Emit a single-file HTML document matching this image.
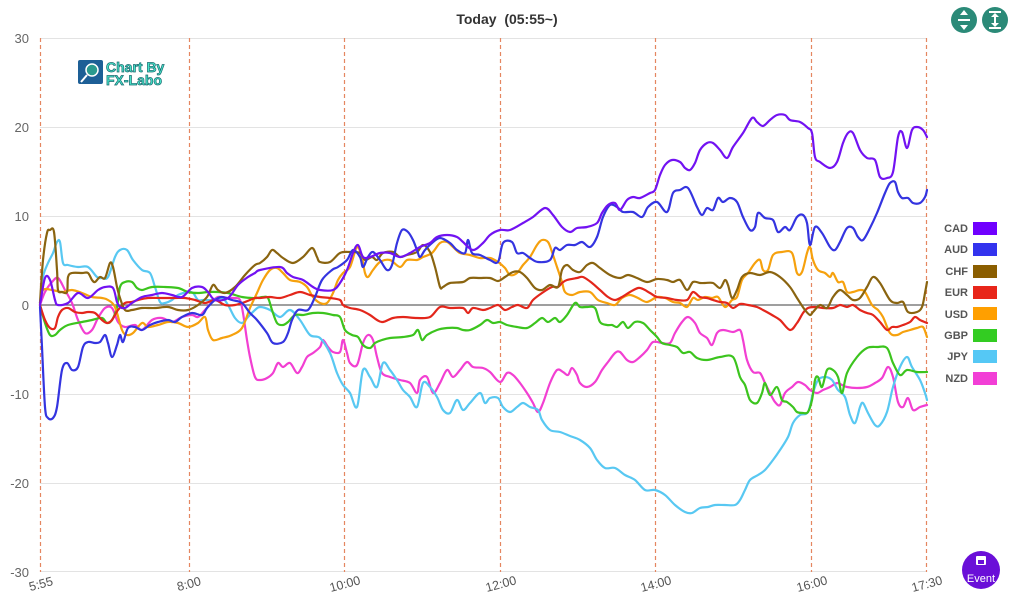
<!DOCTYPE html>
<html><head><meta charset="utf-8">
<style>
html,body{margin:0;padding:0;background:#fff;}
body{width:1024px;height:603px;overflow:hidden;position:relative;font-family:"Liberation Sans",sans-serif;}
svg{position:absolute;left:0;top:0;}
</style></head>
<body>
<svg width="1024" height="603" viewBox="0 0 1024 603" xmlns="http://www.w3.org/2000/svg">
<!-- grid -->
<g stroke="#e3e3e3" stroke-width="1">
<line x1="40" y1="38.5" x2="927" y2="38.5"/>
<line x1="40" y1="127.5" x2="927" y2="127.5"/>
<line x1="40" y1="216.5" x2="927" y2="216.5"/>
<line x1="40" y1="394.5" x2="927" y2="394.5"/>
<line x1="40" y1="483.5" x2="927" y2="483.5"/>
<line x1="40" y1="571.5" x2="927" y2="571.5"/>
</g>
<g stroke="#e58660" stroke-width="1.2" stroke-dasharray="4,3">
<line x1="40.5" y1="38" x2="40.5" y2="572"/>
<line x1="189.5" y1="38" x2="189.5" y2="572"/>
<line x1="344.5" y1="38" x2="344.5" y2="572"/>
<line x1="500.5" y1="38" x2="500.5" y2="572"/>
<line x1="655.5" y1="38" x2="655.5" y2="572"/>
<line x1="811.5" y1="38" x2="811.5" y2="572"/>
<line x1="926.5" y1="38" x2="926.5" y2="572"/>
</g>
<line x1="40" y1="305" x2="927" y2="305" stroke="#666" stroke-width="1.2"/>
<!-- y labels -->
<g font-size="13" fill="#666" text-anchor="end" font-family="Liberation Sans, sans-serif">
<text x="29" y="43">30</text>
<text x="29" y="132">20</text>
<text x="29" y="221">10</text>
<text x="29" y="310">0</text>
<text x="29" y="399">-10</text>
<text x="29" y="488">-20</text>
<text x="29" y="577">-30</text>
</g>
<!-- x labels -->
<g font-size="12.5" fill="#555" text-anchor="middle" font-family="Liberation Sans, sans-serif">
<text transform="translate(42,588) rotate(-15)">5:55</text>
<text transform="translate(190,588) rotate(-15)">8:00</text>
<text transform="translate(346,588) rotate(-15)">10:00</text>
<text transform="translate(502,588) rotate(-15)">12:00</text>
<text transform="translate(657,588) rotate(-15)">14:00</text>
<text transform="translate(813,588) rotate(-15)">16:00</text>
<text transform="translate(928,588) rotate(-15)">17:30</text>
</g>
<!-- title -->
<text x="507" y="24" font-size="14" font-weight="bold" fill="#333" text-anchor="middle" font-family="Liberation Sans, sans-serif">Today&#160;&#160;(05:55~)</text>
<!-- logo -->
<rect x="78" y="60" width="25" height="24" rx="2" fill="#1d5f96"/>
<circle cx="92" cy="70" r="6" fill="#2a9a8e" stroke="#fff" stroke-width="1.5"/>
<line x1="87" y1="75" x2="81" y2="82" stroke="#fff" stroke-width="2"/>
<g font-size="14" font-weight="bold" fill="#46e3c8" stroke="#1b6a70" stroke-width="0.7" font-family="Liberation Sans, sans-serif">
<text x="106" y="72">Chart By</text>
<text x="106" y="85">FX-Labo</text>
</g>
<!-- series -->
<g id="series" fill="none" stroke-width="2.2" stroke-linejoin="round" stroke-linecap="round">
<polyline stroke="#f23fd2" points="40,305 45,292 52,282 58,278 65,290 72,303 78,320 85,333 92,330 98,318 105,308 112,308 118,322 125,327 135,325 142,330 152,320 162,318 172,322 182,317 192,315 198,317 205,310 212,302 218,297 228,298 235,298 240,300 243,313 247,340 250,357 255,377 260,380 267,378 273,373 278,363 283,367 290,363 297,373 302,367 307,357 313,353 320,347 323,340 328,347 333,352 340,352 343,340 347,353 350,363 357,365 363,343 368,335 373,340 377,357 382,373 390,377 400,380 410,383 417,393 420,380 427,377 433,393 440,383 447,370 453,377 460,370 467,362 473,367 483,368 490,372 500,382 507,373 513,375 520,383 527,393 533,403 538,412 543,403 550,383 557,370 563,372 568,375 572,368 577,375 580,383 587,387 595,382 602,370 608,362 615,353 620,352 627,360 633,362 640,357 647,350 653,342 662,343 670,343 675,333 682,322 688,317 695,323 700,333 707,338 712,345 717,333 723,330 733,332 740,330 743,340 747,360 753,372 760,373 765,383 770,393 775,402 780,405 785,393 792,387 798,382 805,385 810,390 817,393 823,390 830,387 837,383 842,385 847,387 857,388 867,387 875,383 882,378 888,367 893,377 898,402 903,407 908,398 913,410 920,407 927,405"/>
<polyline stroke="#58c8f2" points="40,303 43,277 48,263 53,253 57,242 60,242 63,263 68,265 78,267 88,267 97,277 102,278 108,277 115,257 120,250 127,250 133,260 142,270 150,273 155,287 160,302 165,303 172,300 178,295 188,292 193,293 198,300 203,300 212,300 222,298 228,305 235,318 242,323 248,317 255,310 260,307 270,310 280,317 290,310 300,320 310,335 320,338 330,353 337,373 343,385 350,393 357,407 363,370 370,377 377,387 383,363 390,370 397,380 403,390 410,397 417,407 423,383 430,387 437,397 443,410 450,413 457,400 463,410 470,403 480,393 485,403 490,398 498,398 503,407 510,412 517,407 523,403 530,407 538,410 542,420 550,430 560,432 570,436 580,440 590,448 597,460 605,468 615,468 625,475 635,480 645,490 655,490 665,495 675,505 685,512 692,513 700,508 708,507 715,505 725,505 735,505 740,500 745,490 750,480 758,475 765,470 773,460 780,450 788,437 793,423 800,415 808,412 813,393 818,380 825,377 832,380 838,390 845,397 850,415 855,423 860,407 863,403 868,413 875,425 880,425 887,412 893,387 900,367 907,357 912,367 920,380 925,393 927,400"/>
<polyline stroke="#3cc41e" points="40,305 45,323 50,335 55,335 60,330 68,325 82,322 92,320 102,318 107,323 112,320 117,307 120,287 125,282 132,282 137,288 142,290 152,287 165,287 178,288 188,292 198,293 208,292 218,292 228,293 242,297 252,298 257,298 263,297 268,298 272,310 277,323 283,325 288,322 295,315 303,315 313,313 323,313 333,315 340,317 345,330 352,335 358,337 363,345 370,348 375,343 382,340 390,338 403,337 413,335 418,330 422,340 427,335 437,330 447,328 457,328 463,330 470,330 480,325 487,320 493,323 500,322 507,325 517,327 527,328 535,323 542,318 548,322 555,318 560,322 567,315 575,303 580,307 587,307 595,308 600,322 607,325 612,325 617,327 623,322 628,328 635,322 643,323 650,330 657,337 662,343 670,345 677,347 683,353 690,352 697,358 707,360 720,357 733,357 740,377 745,385 750,400 757,403 762,393 765,383 770,395 777,387 782,400 787,402 793,407 797,412 803,413 808,412 812,400 815,380 818,377 822,387 827,370 833,370 838,377 842,393 847,373 857,357 867,348 877,347 887,348 893,363 900,375 907,370 917,372 927,372"/>
<polyline stroke="#f6a10d" points="40,303 43,290 52,290 62,292 72,290 82,293 92,297 102,298 108,300 115,307 122,330 127,335 133,333 142,323 148,327 158,325 168,322 178,323 188,327 198,323 205,317 208,330 213,340 222,338 232,335 242,328 250,308 257,293 263,280 270,270 277,268 283,273 290,280 300,282 307,287 313,297 320,303 327,303 333,293 338,280 343,273 350,267 357,247 362,258 365,273 368,277 373,270 380,262 390,260 400,267 407,260 417,260 423,257 432,253 440,243 447,242 453,247 460,253 470,255 480,258 490,258 498,262 505,268 510,275 517,273 523,265 530,257 537,245 542,240 548,242 552,252 557,267 562,282 565,292 572,295 580,292 590,292 598,300 607,303 615,305 622,298 630,295 638,298 647,302 657,297 665,298 673,302 680,303 687,307 693,298 698,300 705,297 712,298 718,297 725,307 732,300 737,297 742,280 748,273 755,263 760,260 763,270 768,270 773,255 782,252 792,253 797,273 802,272 807,253 810,247 813,260 818,270 825,273 830,277 833,273 838,282 843,282 847,292 853,292 860,290 865,292 872,305 878,310 883,317 890,333 897,335 903,332 910,330 917,328 923,327 927,337"/>
<polyline stroke="#e3261b" points="40,305 45,320 50,328 55,328 58,317 62,310 68,308 75,312 82,313 88,312 95,313 102,320 107,323 112,320 118,310 125,303 132,302 138,300 148,298 162,298 175,298 185,298 195,300 205,303 215,300 225,305 235,305 245,302 255,298 260,298 270,297 280,298 290,295 300,292 310,295 320,297 330,298 340,300 343,305 350,308 360,310 370,315 377,320 383,322 393,318 403,317 417,318 430,317 440,307 450,308 463,308 468,313 473,308 483,310 490,308 498,305 505,310 512,307 518,305 527,308 533,300 542,293 552,287 558,287 562,283 567,280 577,278 583,277 592,283 600,290 608,297 615,300 622,297 630,292 638,288 643,289 650,293 657,297 667,298 677,300 687,300 693,292 700,297 707,298 713,300 720,302 727,303 733,308 740,304 748,305 757,307 763,310 772,315 780,320 790,330 797,323 803,313 808,308 815,307 823,308 833,308 840,305 847,307 853,305 860,310 867,313 873,315 880,322 887,330 892,327 897,327 903,325 910,322 915,317 920,320 927,323"/>
<polyline stroke="#8a6410" points="40,303 43,260 47,233 50,230 54,232 57,270 58,290 62,292 67,292 68,277 72,273 82,273 88,273 92,280 95,282 100,277 105,278 110,263 113,267 117,287 120,298 125,310 132,310 142,308 155,308 168,307 178,310 188,310 198,305 207,297 213,285 218,290 225,293 235,287 245,275 255,265 260,263 267,257 272,250 277,253 283,258 293,263 303,257 312,248 317,257 320,262 330,262 340,253 350,252 360,253 365,260 372,257 377,260 383,253 393,252 400,257 407,255 417,252 423,245 430,252 435,267 440,287 443,287 450,283 463,282 470,278 480,278 490,278 498,281 505,277 513,272 520,272 527,278 535,288 542,290 550,285 558,287 562,270 567,265 573,270 580,272 587,265 593,263 600,268 610,275 620,278 628,275 637,278 647,282 657,279 667,280 673,282 680,280 687,290 693,282 700,283 705,283 713,283 720,288 725,280 728,285 732,298 737,290 742,277 750,273 760,275 770,272 780,277 790,287 797,298 805,310 810,315 813,312 820,305 827,308 833,297 840,290 847,295 853,300 860,298 867,287 873,277 880,283 890,300 897,303 903,302 908,312 917,312 922,307 925,293 927,282"/>
<polyline stroke="#3434e0" points="40,307 42,347 45,407 48,418 53,418 57,407 62,370 67,363 72,370 78,367 83,347 88,342 95,343 100,342 105,335 108,343 112,357 117,345 120,335 123,342 128,328 135,327 142,330 150,325 158,322 168,320 175,322 182,317 192,313 202,315 207,308 215,300 222,297 232,300 242,303 250,313 257,320 267,333 273,343 283,342 288,333 292,320 298,310 308,310 315,297 322,280 332,270 338,267 347,260 353,250 360,257 363,267 368,257 373,252 380,260 387,270 392,265 397,243 402,230 408,232 413,240 417,250 420,257 425,250 432,243 440,238 450,243 457,250 465,253 468,240 472,253 480,255 490,260 498,262 503,243 512,242 517,253 523,253 530,258 538,262 550,260 555,248 560,250 567,245 575,245 582,242 590,247 597,237 603,217 610,205 617,207 623,212 633,212 642,217 648,207 657,202 667,212 673,193 680,190 688,188 697,207 702,215 707,208 713,210 718,198 723,202 730,198 737,202 743,217 750,230 755,227 758,213 765,218 773,220 778,232 785,227 790,230 797,217 803,215 807,223 810,245 815,227 822,233 830,247 835,250 840,242 847,228 853,228 858,237 863,240 870,228 877,213 885,193 890,183 895,182 898,192 902,198 908,198 913,203 920,203 925,197 927,190"/>
<polyline stroke="#7212f2" points="40,305 45,278 50,280 55,300 58,305 68,303 78,293 88,298 98,290 105,287 113,288 117,302 120,307 125,308 132,303 142,297 152,295 162,293 172,295 182,297 192,288 202,287 208,292 215,300 228,298 238,285 248,277 255,273 260,270 280,267 287,273 293,277 303,280 313,287 320,290 333,290 340,283 347,270 353,253 358,245 363,257 370,257 380,253 390,253 400,257 410,253 420,247 430,243 437,237 447,235 457,237 463,242 473,250 483,243 490,235 500,230 510,230 523,223 533,217 545,208 553,215 562,227 570,232 577,228 587,227 597,223 602,213 608,205 615,203 620,210 627,200 633,197 640,198 650,193 655,190 660,175 665,165 672,160 680,162 685,168 690,170 695,163 700,150 707,143 713,143 720,150 727,158 733,147 743,133 752,118 757,122 763,126 770,120 777,115 785,115 790,120 800,122 808,128 812,133 815,157 820,162 830,168 837,162 843,143 848,133 853,133 860,150 867,158 875,160 880,177 887,178 893,172 898,137 902,132 907,148 912,130 917,127 923,130 927,137"/>
</g>
<!-- legend -->
<g font-size="11" font-weight="bold" fill="#555" text-anchor="end" font-family="Liberation Sans, sans-serif">
<text x="968" y="232">CAD</text>
<text x="968" y="253">AUD</text>
<text x="968" y="275">CHF</text>
<text x="968" y="296">EUR</text>
<text x="968" y="318">USD</text>
<text x="968" y="339">GBP</text>
<text x="968" y="360">JPY</text>
<text x="968" y="382">NZD</text>
</g>
<rect x="973" y="222" width="24" height="13" fill="#7000ff"/>
<rect x="973" y="243" width="24" height="13" fill="#3333ee"/>
<rect x="973" y="265" width="24" height="13" fill="#8b5e00"/>
<rect x="973" y="286" width="24" height="13" fill="#e8261a"/>
<rect x="973" y="307" width="24" height="13" fill="#ff9f00"/>
<rect x="973" y="329" width="24" height="13" fill="#33cc22"/>
<rect x="973" y="350" width="24" height="13" fill="#55c8f5"/>
<rect x="973" y="372" width="24" height="13" fill="#f23fd6"/>
<!-- top buttons -->
<circle cx="964" cy="20" r="13" fill="#2b8a78"/>
<rect x="958" y="19" width="12" height="2" fill="#fff"/>
<path d="M964 10 L960 15 L968 15 Z M964 30 L960 25 L968 25 Z" fill="#fff"/>
<circle cx="995" cy="20" r="13" fill="#2b8a78"/>
<rect x="989" y="11" width="12" height="2" fill="#fff"/>
<rect x="989" y="27" width="12" height="2" fill="#fff"/>
<rect x="994" y="15" width="2" height="10" fill="#fff"/>
<path d="M995 13 L991 17 L999 17 Z M995 27 L991 23 L999 23 Z" fill="#fff"/>
<!-- event button -->
<circle cx="981" cy="570" r="19" fill="#6a0fd8"/>
<rect x="976" y="556" width="10" height="9" rx="1" fill="#fff"/>
<rect x="978" y="560" width="6" height="4" fill="#6a0fd8"/>
<text x="981" y="582" font-size="11" fill="#fff" text-anchor="middle" font-family="Liberation Sans, sans-serif">Event</text>
</svg>
<script>
(function(){
  try{
    var ns="http://www.w3.org/2000/svg";
    var pls=document.querySelectorAll('#series polyline');
    for(var k=0;k<pls.length;k++){
      var pl=pls[k];
      var raw=pl.getAttribute('points').trim().split(/\s+/);
      var p=raw.map(function(s){var a=s.split(',');return [parseFloat(a[0]),parseFloat(a[1])];});
      var d='M'+p[0][0]+' '+p[0][1];
      for(var i=0;i<p.length-1;i++){
        var p0=p[i>0?i-1:i],p1=p[i],p2=p[i+1],p3=p[i+2<p.length?i+2:i+1];
        var t=0.5/3;
        var c1x=p1[0]+(p2[0]-p0[0])*t,c1y=p1[1]+(p2[1]-p0[1])*t;
        var c2x=p2[0]-(p3[0]-p1[0])*t,c2y=p2[1]-(p3[1]-p1[1])*t;
        d+=' C'+c1x.toFixed(1)+' '+c1y.toFixed(1)+' '+c2x.toFixed(1)+' '+c2y.toFixed(1)+' '+p2[0]+' '+p2[1];
      }
      var path=document.createElementNS(ns,'path');
      path.setAttribute('d',d);
      path.setAttribute('stroke',pl.getAttribute('stroke'));
      pl.parentNode.replaceChild(path,pl);
    }
  }catch(e){}
})();
</script>
</body></html>
